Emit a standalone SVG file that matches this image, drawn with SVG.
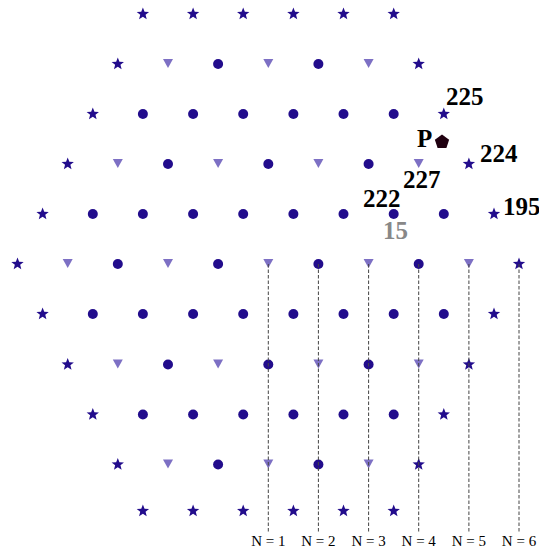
<svg xmlns="http://www.w3.org/2000/svg" width="539" height="549" viewBox="0 0 539 549">
<style>
.s{fill:#220c8c}
.c{fill:#220c8c}
.t{fill:#7d70c4}
.lbl{font-family:"Liberation Serif","Times New Roman",serif;font-weight:bold;font-size:25px;fill:#000}
.n{font-family:"Liberation Serif","Times New Roman",serif;font-size:15px;fill:#000;text-anchor:middle}
.dash{stroke:#444;stroke-width:1;stroke-dasharray:3.5,2;fill:none}
</style>
<defs>
<path id="star" class="s" d="M0,-6.5 L1.65,-2.27 L6.18,-2.01 L2.66,0.86 L3.82,5.26 L0,2.8 L-3.82,5.26 L-2.66,0.86 L-6.18,-2.01 L-1.65,-2.27 Z"/>
<circle id="circ" class="c" r="5"/>
<path id="tri" class="t" d="M-5,-5 L5,-5 L0,4 Z"/>
</defs>
<g id="nodes">
<g id="r0-1"><use href="#star" x="142.9" y="14"/></g>
<g id="r0-2"><use href="#star" x="193.1" y="14"/></g>
<g id="r0-3"><use href="#star" x="243.2" y="14"/></g>
<g id="r0-4"><use href="#star" x="293.4" y="14"/></g>
<g id="r0-5"><use href="#star" x="343.5" y="14"/></g>
<g id="r0-6"><use href="#star" x="393.7" y="14"/></g>
<g id="r1-1"><use href="#star" x="117.8" y="64"/></g>
<g id="r1-2"><use href="#tri" x="168.0" y="64"/></g>
<g id="r1-3"><use href="#circ" x="218.1" y="64"/></g>
<g id="r1-4"><use href="#tri" x="268.3" y="64"/></g>
<g id="r1-5"><use href="#circ" x="318.4" y="64"/></g>
<g id="r1-6"><use href="#tri" x="368.6" y="64"/></g>
<g id="r1-7"><use href="#star" x="418.7" y="64"/></g>
<g id="r2-1"><use href="#star" x="92.8" y="114"/></g>
<g id="r2-2"><use href="#circ" x="142.9" y="114"/></g>
<g id="r2-3"><use href="#circ" x="193.1" y="114"/></g>
<g id="r2-4"><use href="#circ" x="243.2" y="114"/></g>
<g id="r2-5"><use href="#circ" x="293.4" y="114"/></g>
<g id="r2-6"><use href="#circ" x="343.5" y="114"/></g>
<g id="r2-7"><use href="#circ" x="393.7" y="114"/></g>
<g id="r2-8"><use href="#star" x="443.8" y="114"/></g>
<g id="r3-1"><use href="#star" x="67.7" y="164"/></g>
<g id="r3-2"><use href="#tri" x="117.8" y="164"/></g>
<g id="r3-3"><use href="#circ" x="168.0" y="164"/></g>
<g id="r3-4"><use href="#tri" x="218.1" y="164"/></g>
<g id="r3-5"><use href="#circ" x="268.3" y="164"/></g>
<g id="r3-6"><use href="#tri" x="318.4" y="164"/></g>
<g id="r3-7"><use href="#circ" x="368.6" y="164"/></g>
<g id="r3-8"><use href="#tri" x="418.7" y="164"/></g>
<g id="r3-9"><use href="#star" x="468.9" y="164"/></g>
<g id="r4-0"><use href="#star" x="42.6" y="214"/></g>
<g id="r4-1"><use href="#circ" x="92.8" y="214"/></g>
<g id="r4-2"><use href="#circ" x="142.9" y="214"/></g>
<g id="r4-3"><use href="#circ" x="193.1" y="214"/></g>
<g id="r4-4"><use href="#circ" x="243.2" y="214"/></g>
<g id="r4-5"><use href="#circ" x="293.4" y="214"/></g>
<g id="r4-6"><use href="#circ" x="343.5" y="214"/></g>
<g id="r4-7"><use href="#circ" x="393.7" y="214"/></g>
<g id="r4-8"><use href="#circ" x="443.8" y="214"/></g>
<g id="r4-9"><use href="#star" x="494.0" y="214"/></g>
<g id="r5-0"><use href="#star" x="17.5" y="264"/></g>
<g id="r5-1"><use href="#tri" x="67.7" y="264"/></g>
<g id="r5-2"><use href="#circ" x="117.8" y="264"/></g>
<g id="r5-3"><use href="#tri" x="168.0" y="264"/></g>
<g id="r5-4"><use href="#circ" x="218.1" y="264"/></g>
<g id="r5-5"><use href="#tri" x="268.3" y="264"/></g>
<g id="r5-6"><use href="#circ" x="318.4" y="264"/></g>
<g id="r5-7"><use href="#tri" x="368.6" y="264"/></g>
<g id="r5-8"><use href="#circ" x="418.7" y="264"/></g>
<g id="r5-9"><use href="#tri" x="468.9" y="264"/></g>
<g id="r5-10"><use href="#star" x="519.0" y="264"/></g>
<g id="r6-0"><use href="#star" x="42.6" y="314"/></g>
<g id="r6-1"><use href="#circ" x="92.8" y="314"/></g>
<g id="r6-2"><use href="#circ" x="142.9" y="314"/></g>
<g id="r6-3"><use href="#circ" x="193.1" y="314"/></g>
<g id="r6-4"><use href="#circ" x="243.2" y="314"/></g>
<g id="r6-5"><use href="#circ" x="293.4" y="314"/></g>
<g id="r6-6"><use href="#circ" x="343.5" y="314"/></g>
<g id="r6-7"><use href="#circ" x="393.7" y="314"/></g>
<g id="r6-8"><use href="#circ" x="443.8" y="314"/></g>
<g id="r6-9"><use href="#star" x="494.0" y="314"/></g>
<g id="r7-1"><use href="#star" x="67.7" y="364.5"/></g>
<g id="r7-2"><use href="#tri" x="117.8" y="364.5"/></g>
<g id="r7-3"><use href="#circ" x="168.0" y="364.5"/></g>
<g id="r7-4"><use href="#tri" x="218.1" y="364.5"/></g>
<g id="r7-5"><use href="#circ" x="268.3" y="364.5"/></g>
<g id="r7-6"><use href="#tri" x="318.4" y="364.5"/></g>
<g id="r7-7"><use href="#circ" x="368.6" y="364.5"/></g>
<g id="r7-8"><use href="#tri" x="418.7" y="364.5"/></g>
<g id="r7-9"><use href="#star" x="468.9" y="364.5"/></g>
<g id="r8-1"><use href="#star" x="92.8" y="414.5"/></g>
<g id="r8-2"><use href="#circ" x="142.9" y="414.5"/></g>
<g id="r8-3"><use href="#circ" x="193.1" y="414.5"/></g>
<g id="r8-4"><use href="#circ" x="243.2" y="414.5"/></g>
<g id="r8-5"><use href="#circ" x="293.4" y="414.5"/></g>
<g id="r8-6"><use href="#circ" x="343.5" y="414.5"/></g>
<g id="r8-7"><use href="#circ" x="393.7" y="414.5"/></g>
<g id="r8-8"><use href="#star" x="443.8" y="414.5"/></g>
<g id="r9-1"><use href="#star" x="117.8" y="464.5"/></g>
<g id="r9-2"><use href="#tri" x="168.0" y="464.5"/></g>
<g id="r9-3"><use href="#circ" x="218.1" y="464.5"/></g>
<g id="r9-4"><use href="#tri" x="268.3" y="464.5"/></g>
<g id="r9-5"><use href="#circ" x="318.4" y="464.5"/></g>
<g id="r9-6"><use href="#tri" x="368.6" y="464.5"/></g>
<g id="r9-7"><use href="#star" x="418.7" y="464.5"/></g>
<g id="r10-1"><use href="#star" x="142.9" y="511"/></g>
<g id="r10-2"><use href="#star" x="193.1" y="511"/></g>
<g id="r10-3"><use href="#star" x="243.2" y="511"/></g>
<g id="r10-4"><use href="#star" x="293.4" y="511"/></g>
<g id="r10-5"><use href="#star" x="343.5" y="511"/></g>
<g id="r10-6"><use href="#star" x="393.7" y="511"/></g>
<g id="P"><path d="M442,134.5 L449.13,139.68 L446.41,148.07 L437.59,148.07 L434.87,139.68 Z" fill="#200010"/></g>
</g>
<g id="connectors">
<line class="dash" x1="268.3" y1="264" x2="268.3" y2="533"/>
<line class="dash" x1="318.4" y1="264" x2="318.4" y2="533"/>
<line class="dash" x1="368.6" y1="264" x2="368.6" y2="533"/>
<line class="dash" x1="418.7" y1="264" x2="418.7" y2="533"/>
<line class="dash" x1="468.9" y1="264" x2="468.9" y2="533"/>
<line class="dash" x1="519.0" y1="264" x2="519.0" y2="533"/>
</g>
<g id="labels">
<text class="lbl" x="446" y="105">225</text>
<text class="lbl" x="417" y="147">P</text>
<text class="lbl" x="480" y="162">224</text>
<text class="lbl" x="403" y="188">227</text>
<text class="lbl" x="363" y="207">222</text>
<text class="lbl" x="383" y="239" style="fill:#888">15</text>
<text class="lbl" x="503" y="215">195</text>
<text class="n" x="268.3" y="545.5">N = 1</text>
<text class="n" x="318.4" y="545.5">N = 2</text>
<text class="n" x="368.6" y="545.5">N = 3</text>
<text class="n" x="418.7" y="545.5">N = 4</text>
<text class="n" x="468.9" y="545.5">N = 5</text>
<text class="n" x="519.0" y="545.5">N = 6</text>
</g>
</svg>
